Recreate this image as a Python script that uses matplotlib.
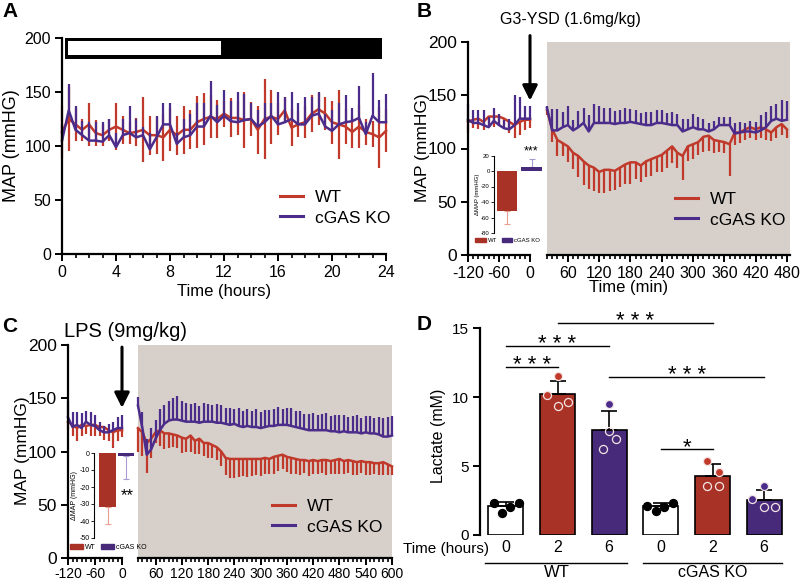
import numpy as np
import matplotlib
matplotlib.use('Agg')
import matplotlib.pyplot as plt
from matplotlib.patches import Rectangle, Patch
from matplotlib.lines import Line2D
from matplotlib.ticker import MultipleLocator

plt.rcParams['font.family'] = ['Liberation Sans', 'DejaVu Sans']
plt.rcParams['axes.unicode_minus'] = False

RED = '#c0392b'
PURPLE = '#4b2c8a'
RED_BAR = '#a93226'
PURPLE_BAR = '#472b7a'
RED_LIGHT = '#e8a090'
PURPLE_LIGHT = '#a99bcf'
GREY = '#d6cfca'

# ---- panel A: 24 h telemetry ----
a_time = np.arange(0, 24.5, 0.5)
a_wt = [113, 125, 120, 115, 120, 112, 110, 115, 118, 115, 112, 113, 115, 110, 110,
        108, 115, 110, 115, 115, 122, 125, 127, 125, 130, 126, 126, 124, 125, 115,
        125, 127, 125, 133, 117, 120, 122, 130, 134, 130, 122, 120, 118, 113, 118,
        113, 111, 108, 114]
a_wt_err = [24, 30, 15, 10, 20, 12, 10, 10, 22, 13, 10, 13, 30, 18, 17, 22, 20, 18,
            22, 18, 24, 24, 20, 18, 12, 18, 16, 26, 16, 22, 37, 25, 15, 12, 17, 12,
            15, 17, 15, 15, 20, 32, 16, 15, 20, 12, 12, 28, 20]
a_ko = [105, 133, 115, 110, 105, 105, 104, 110, 99, 110, 112, 108, 110, 97, 108,
        120, 120, 102, 108, 110, 118, 118, 128, 122, 128, 123, 122, 124, 125, 118,
        122, 128, 120, 122, 125, 120, 120, 128, 130, 118, 114, 120, 122, 123, 126,
        111, 128, 122, 122]
a_ko_err = [15, 24, 22, 13, 17, 17, 18, 15, 13, 15, 25, 17, 8, 15, 20, 20, 20, 10,
            17, 20, 22, 22, 32, 16, 24, 19, 28, 24, 15, 15, 18, 12, 30, 23, 25, 20,
            25, 17, 20, 12, 19, 20, 25, 12, 30, 11, 40, 21, 26]

# ---- panel B: G3-YSD ----
b_pre_time = np.arange(-120, 1, 10)
b_pre_wt = [125, 127, 128, 125, 130, 130, 130, 128, 125, 122, 125, 127, 127]
b_pre_wt_err = [10, 8, 10, 8, 8, 10, 8, 6, 10, 12, 12, 10, 8]
b_pre_ko = [127, 124, 124, 122, 120, 126, 122, 119, 118, 122, 128, 128, 128]
b_pre_ko_err = [15, 12, 12, 14, 10, 12, 10, 8, 10, 28, 20, 12, 12]
b_post_time = np.arange(20, 481, 10)
b_post_wt = [136, 118, 108, 105, 102, 96, 93, 88, 84, 82, 78, 80, 80, 79, 82,
             85, 87, 87, 84, 88, 90, 92, 94, 98, 102, 96, 93, 102, 104, 106,
             111, 112, 108, 107, 106, 104, 115, 115, 118, 120, 118, 120, 118, 115, 120,
             123, 118]
b_post_wt_err = [5, 12, 15, 12, 15, 15, 20, 22, 22, 22, 20, 22, 20, 18, 18, 18, 20,
                 16, 15, 15, 16, 14, 16, 16, 16, 14, 23, 14, 14, 12, 14, 14, 12, 10,
                 10, 30, 12, 10, 10, 10, 10, 10, 10, 8, 10, 10, 8]
b_post_ko = [138, 117, 117, 120, 122, 117, 120, 124, 116, 124, 124, 124, 124, 123, 124,
             124, 125, 124, 123, 122, 122, 124, 124, 123, 122, 122, 116, 118, 120, 118,
             118, 116, 118, 122, 122, 122, 114, 115, 116, 116, 115, 117, 120, 126, 128,
             126, 127]
b_post_ko_err = [2, 20, 20, 14, 18, 10, 15, 14, 15, 18, 16, 14, 14, 12, 12, 14, 12, 12,
                 10, 12, 12, 12, 12, 10, 12, 10, 12, 10, 12, 12, 10, 8, 8, 8, 8, 8, 10,
                 10, 8, 10, 10, 14, 14, 14, 14, 20, 18]
b_delta = [-52, 5]
b_delta_err = [16, 11]

# ---- panel C: LPS ----
c_pre_time = np.arange(-120, 1, 10)
c_pre_wt = [128, 125, 122, 125, 124, 125, 125, 123, 123, 120, 118, 120, 120]
c_pre_wt_err = [8, 10, 12, 10, 8, 10, 10, 8, 12, 10, 15, 10, 6]
c_pre_ko = [132, 123, 125, 122, 128, 125, 124, 120, 118, 118, 120, 122, 122]
c_pre_ko_err = [15, 14, 12, 14, 10, 12, 10, 8, 6, 8, 8, 10, 12]
c_post_time = np.arange(20, 601, 10)
c_post_wt = [122, 118, 108, 112, 118, 120, 117, 117, 116, 115, 113, 112, 115, 110, 112,
             108, 108, 106, 104, 100, 94, 93, 93, 93, 93, 93, 93, 93, 93, 94,
             93, 95, 96, 97, 95, 94, 93, 92, 92, 91, 92, 91, 92, 92, 91,
             92, 93, 91, 92, 91, 90, 91, 90, 90, 89, 89, 90, 88, 86]
c_post_wt_err = [22, 22, 28, 18, 10, 15, 15, 14, 12, 12, 14, 12, 15, 12, 14, 12, 14,
                 12, 12, 14, 16, 18, 18, 17, 16, 17, 16, 15, 16, 15, 14, 16, 14, 13,
                 14, 15, 14, 14, 12, 14, 13, 12, 12, 14, 12, 13, 14, 12, 12, 13, 12,
                 11, 12, 12, 10, 11, 12, 10, 8]
c_post_ko = [143, 122, 97, 102, 112, 120, 126, 129, 130, 130, 129, 128, 128, 128, 127,
             128, 128, 128, 127, 127, 126, 125, 126, 124, 123, 124, 123, 123, 122, 123,
             124, 124, 125, 125, 125, 124, 123, 122, 121, 120, 120, 120, 120, 120, 119,
             119, 118, 119, 118, 118, 118, 117, 118, 117, 117, 116, 114, 114, 115]
c_post_ko_err = [8, 15, 15, 20, 18, 20, 18, 18, 20, 22, 18, 18, 17, 18, 16, 18, 17, 16,
                 18, 17, 15, 16, 14, 17, 15, 16, 15, 17, 15, 16, 15, 16, 17, 15, 16,
                 17, 15, 16, 14, 15, 16, 14, 15, 16, 14, 15, 16, 15, 14, 15, 16, 14,
                 15, 16, 14, 16, 17, 18, 18]
c_delta = [-32, -2]
c_delta_err = [10, 13.5]

groups = ['WT', 'cGAS KO']

# ---- panel D: lactate ----
d_pos = np.arange(6)
d_ticks = ['0', '2', '6', '0', '2', '6']
d_mean = [2.1, 10.2, 7.6, 2.1, 4.3, 2.55]
d_sd = [0.3, 0.95, 1.4, 0.2, 0.85, 0.7]
d_vals = [[2.3, 1.62, 2.06, 2.35], [10.14, 11.54, 9.38, 9.65], [9.5, 7.57, 6.96, 6.24],
          [2.13, 1.77, 2.0, 2.35], [5.37, 4.6, 3.56, 3.56], [3.56, 2.6, 2.0, 2.05]]
d_jitter = [[-0.23, -0.07, 0.08, 0.25], [-0.21, 0.0, 0.0, 0.21], [0.0, 0.0, 0.13, -0.12],
            [-0.26, -0.1, 0.06, 0.23], [-0.11, 0.13, -0.11, 0.13], [0.0, -0.23, 0.0, 0.2]]
d_filled = [[1, 1, 1, 1], [1, 1, 0, 0], [1, 0, 0, 0],
            [1, 1, 1, 1], [1, 1, 0, 0], [1, 1, 0, 0]]
d_colors = ['white', RED_BAR, PURPLE_BAR, 'white', RED_BAR, PURPLE_BAR]
d_dot = ['black', RED, PURPLE, 'black', RED, PURPLE]
d_sig = [(0, 1, 12.2, '* * *'), (0, 2, 13.7, '* * *'), (1, 4, 15.4, '* * *'),
         (2, 5, 11.5, '* * *'), (3, 4, 6.25, '*')]

W, H = 800, 581
fig = plt.figure(figsize=(8, 5.81), dpi=100)


def box(l, t, r, b):
    return [l / W, 1 - b / H, (r - l) / W, (b - t) / H]


def fp(x, y):
    return x / W, 1 - y / H


def style(ax, left=True, size=11.5):
    for s in ['top', 'right']:
        ax.spines[s].set_visible(False)
    ax.spines['left'].set_visible(left)
    ax.spines['left'].set_linewidth(1.6)
    ax.spines['bottom'].set_linewidth(1.6)
    ax.tick_params(width=1.4, length=5, labelsize=size, pad=3)
    ax.tick_params(which='minor', width=1.2, length=3)
    if not left:
        ax.tick_params(axis='y', left=False, labelleft=False)


def trace(ax, t, y, err, color, up):
    err = np.asarray(err, dtype=float)
    if up is None:
        yerr = err
    elif up:
        yerr = [np.zeros_like(err), err]
    else:
        yerr = [err, np.zeros_like(err)]
    ax.errorbar(t, y, yerr=yerr, fmt='none', ecolor=color, elinewidth=1.6,
                capsize=0, clip_on=False)
    ax.plot(t, y, color=color, lw=1.8, clip_on=False)


def map_legend(ax, x, y):
    h = [Line2D([], [], color=RED, lw=2.2), Line2D([], [], color=PURPLE, lw=2.2)]
    ax.legend(h, groups, loc='upper left', bbox_to_anchor=fp(x, y),
              bbox_transform=fig.transFigure, frameon=False, fontsize=12.5,
              handlelength=1.3, handletextpad=0.7, labelspacing=0.3,
              borderpad=0, borderaxespad=0)


def inset(rect, vals, errs, ylim, yticks, width, xlim, size, stars, star_xy, star_size, leg_xy):
    ax = fig.add_axes(rect)
    ax.patch.set_visible(False)
    ax.bar([0, 1], vals, width=width, color=[RED_BAR, PURPLE_BAR], zorder=2)
    for i, (v, e, c) in enumerate(zip(vals, errs, [RED_LIGHT, PURPLE_LIGHT])):
        d = e if v > 0 else -e
        lo, hi = sorted([v, v + d])
        yerr = [[v - lo], [hi - v]]
        ax.errorbar([i], [v], yerr=yerr, fmt='none', ecolor=c, elinewidth=0.8,
                    capsize=2.5, capthick=0.8, zorder=1, clip_on=False)
    ax.set_ylim(ylim)
    ax.set_xlim(xlim)
    ax.set_yticks(yticks)
    for s in ['top', 'right', 'bottom']:
        ax.spines[s].set_visible(False)
    ax.spines['left'].set_linewidth(0.8)
    ax.tick_params(axis='y', width=0.6, length=2, labelsize=size, pad=1)
    ax.tick_params(axis='x', bottom=False, labelbottom=False)
    ax.set_ylabel('ΔMAP (mmHG)', fontsize=size, labelpad=1)
    ax.text(star_xy[0], star_xy[1], stars, ha='center', va='baseline',
            fontsize=star_size, clip_on=False)
    h = [Patch(color=RED_BAR), Patch(color=PURPLE_BAR)]
    ax.legend(h, groups, loc='upper left', bbox_to_anchor=fp(*leg_xy),
              bbox_transform=fig.transFigure, frameon=False, fontsize=size,
              ncol=2, handlelength=1.8, handleheight=0.7, handletextpad=0.3,
              columnspacing=0.8, borderpad=0, borderaxespad=0)
    return ax


# ---------------- A ----------------
ax_a = fig.add_axes(box(62, 38, 386, 254))
style(ax_a)
ax_a.set_xlim(0, 24)
ax_a.set_ylim(0, 200)
ax_a.add_patch(Rectangle((0.25, 180.8), 23.48, 19.2, facecolor='black',
                         edgecolor='none', clip_on=False))
ax_a.add_patch(Rectangle((0.44, 184.5), 11.35, 12.4, facecolor='white',
                         edgecolor='none', clip_on=False))
trace(ax_a, a_time, a_wt, a_wt_err, RED, None)
trace(ax_a, a_time, a_ko, a_ko_err, PURPLE, True)
ax_a.xaxis.set_major_locator(MultipleLocator(4))
ax_a.xaxis.set_minor_locator(MultipleLocator(1))
ax_a.set_yticks([0, 50, 100, 150, 200])
map_legend(ax_a, 280, 190)
fig.text(*fp(12, 146), 'MAP (mmHG)', rotation=90, ha='center', va='center', fontsize=13)
fig.text(*fp(224, 296), 'Time (hours)', ha='center', va='baseline', fontsize=12)

# ---------------- B ----------------
ax_b0 = fig.add_axes(box(468, 42, 530, 255))
ax_b1 = fig.add_axes(box(547, 42, 790, 255), facecolor=GREY)
style(ax_b0, size=11.5)
style(ax_b1, left=False, size=11.5)
ax_b0.tick_params(axis='y', labelsize=12.5)
for ax in (ax_b0, ax_b1):
    ax.set_ylim(0, 200)
    ax.xaxis.set_minor_locator(MultipleLocator(10))
ax_b0.set_xlim(-120, 0)
ax_b0.set_xticks([-120, -60, 0])
ax_b0.set_yticks([0, 50, 100, 150, 200])
ax_b1.set_xlim(20, 486)
ax_b1.set_xticks(np.arange(60, 481, 60))
trace(ax_b0, b_pre_time, b_pre_wt, b_pre_wt_err, RED, False)
trace(ax_b0, b_pre_time, b_pre_ko, b_pre_ko_err, PURPLE, True)
trace(ax_b1, b_post_time, b_post_wt, b_post_wt_err, RED, False)
trace(ax_b1, b_post_time, b_post_ko, b_post_ko_err, PURPLE, True)
ax_b0.annotate('', xy=(0, 145), xytext=(0, 206), annotation_clip=False,
               arrowprops=dict(arrowstyle='-|>,head_length=0.9,head_width=0.45',
                               lw=2.2, color='black', shrinkA=0, shrinkB=0))
map_legend(ax_b1, 675, 192)
fig.text(*fp(570, 24), 'G3-YSD (1.6mg/kg)', ha='center', va='baseline', fontsize=11.5)
fig.text(*fp(422, 148), 'MAP (mmHG)', rotation=90, ha='center', va='center', fontsize=12.5)
fig.text(*fp(629, 292), 'Time (min)', ha='center', va='baseline', fontsize=12)
inset(box(494, 155.5, 545, 233), b_delta, b_delta_err, (-80, 20),
      [20, 0, -20, -40, -60, -80], 0.82, (-0.53, 1.55), 4.3, '***', (1, 22), 9,
      (475, 238))

# ---------------- C ----------------
ax_c0 = fig.add_axes(box(68, 345, 122, 558))
ax_c1 = fig.add_axes(box(138, 345, 392, 558), facecolor=GREY)
style(ax_c0, size=10)
style(ax_c1, left=False, size=10)
ax_c0.tick_params(axis='y', labelsize=12.5)
for ax in (ax_c0, ax_c1):
    ax.set_ylim(0, 200)
    ax.xaxis.set_minor_locator(MultipleLocator(10))
    ax.tick_params(axis='x', pad=1.5)
ax_c0.set_xlim(-120, 0)
ax_c0.set_xticks([-120, -60, 0])
ax_c0.set_yticks([0, 50, 100, 150, 200])
ax_c1.set_xlim(20, 600)
ax_c1.set_xticks(np.arange(60, 601, 60))
trace(ax_c0, c_pre_time, c_pre_wt, c_pre_wt_err, RED, False)
trace(ax_c0, c_pre_time, c_pre_ko, c_pre_ko_err, PURPLE, True)
trace(ax_c1, c_post_time, c_post_wt, c_post_wt_err, RED, False)
trace(ax_c1, c_post_time, c_post_ko, c_post_ko_err, PURPLE, True)
ax_c0.annotate('', xy=(0, 141), xytext=(0, 198), annotation_clip=False,
               arrowprops=dict(arrowstyle='-|>,head_length=0.9,head_width=0.45',
                               lw=2.2, color='black', shrinkA=0, shrinkB=0))
map_legend(ax_c1, 272, 499)
fig.text(*fp(126, 337), 'LPS (9mg/kg)', ha='center', va='baseline', fontsize=14.5)
fig.text(*fp(23, 451), 'MAP (mmHG)', rotation=90, ha='center', va='center', fontsize=12.5)
inset(box(94, 453, 136, 538), c_delta, c_delta_err, (-50, 0),
      [0, -10, -20, -30, -40, -50], 0.9, (-0.73, 1.54), 5, '**', (1.05, -27.6), 12,
      (70, 544))

# ---------------- D ----------------
ax_d = fig.add_axes(box(480, 328.3, 790, 535))
style(ax_d, size=11)
ax_d.spines['bottom'].set_visible(False)
ax_d.set_xlim(-0.5, 5.5)
ax_d.set_ylim(0, 15)
ax_d.set_yticks([0, 5, 10, 15])
ax_d.bar(d_pos, d_mean, width=0.68, color=d_colors, edgecolor='black',
         linewidth=1.2, zorder=2)
ax_d.errorbar(d_pos, d_mean, yerr=[np.zeros(6), d_sd], fmt='none', ecolor='black',
              elinewidth=1.2, capsize=6, capthick=1.2, zorder=3)
for i in range(6):
    for v, j, f in zip(d_vals[i], d_jitter[i], d_filled[i]):
        edge = 'black' if d_dot[i] == 'black' else '#f4e4e4'
        ax_d.plot(d_pos[i] + j, v, 'o', ms=5.8, mfc=d_dot[i] if f else 'none',
                  mec=edge, mew=0.9, zorder=4, clip_on=False)
for x0, x1, y, s in d_sig:
    ax_d.plot([x0, x1], [y, y], color='black', lw=1, clip_on=False)
    ax_d.text((x0 + x1) / 2, y - 0.3, s, ha='center', va='baseline', fontsize=16)
ax_d.set_xticks(d_pos, d_ticks)
ax_d.tick_params(axis='x', length=0, pad=3.5, labelsize=11.5)
tr = ax_d.get_xaxis_transform()
ax_d.plot([-0.41, 2.34], [-0.135, -0.135], color='black', lw=1, transform=tr, clip_on=False)
ax_d.plot([2.66, 5.35], [-0.135, -0.135], color='black', lw=1, transform=tr, clip_on=False)
fig.text(*fp(557, 577), 'WT', ha='center', va='baseline', fontsize=12)
fig.text(*fp(713, 577), 'cGAS KO', ha='center', va='baseline', fontsize=11.5)
fig.text(*fp(489, 553), 'Time (hours)', ha='right', va='baseline', fontsize=11)
fig.text(*fp(438, 436), 'Lactate (mM)', rotation=90, ha='center', va='center', fontsize=11.5)

# panel letters
for letter, x, y in [('A', 2, 17), ('B', 417, 17), ('C', 2, 332), ('D', 417, 330)]:
    fig.text(*fp(x, y), letter, fontsize=15, fontweight='bold', va='baseline')

fig.savefig('out.png', dpi=100)
